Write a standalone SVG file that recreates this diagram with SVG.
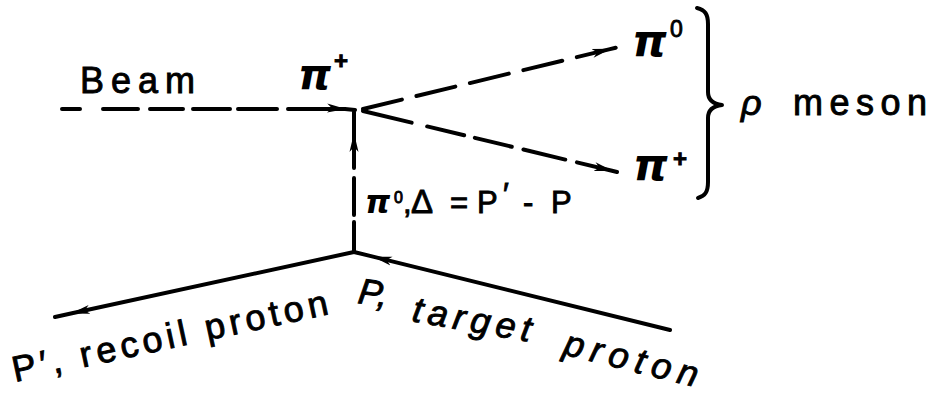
<svg xmlns="http://www.w3.org/2000/svg" width="934" height="395" viewBox="0 0 934 395">
<defs>
<style>
.ln{fill:none;stroke:#000;stroke-width:4;stroke-linecap:round;stroke-linejoin:round}
.dash{stroke-dasharray:40 15}
.sans{font-family:"Liberation Sans","DejaVu Sans",Arial,sans-serif;fill:#000;stroke:#000;stroke-width:0.9}
.pi{font-family:"DejaVu Sans","Liberation Sans",sans-serif;font-style:oblique;font-weight:bold;fill:#000;stroke:none}
.it{font-style:italic}
</style>
<marker id="arr" markerUnits="userSpaceOnUse" markerWidth="20" markerHeight="10" refX="18" refY="5" orient="auto" viewBox="0 0 20 10">
<path d="M0,0.5 L19,5 L0,9.5 L5,5 z" fill="#000"/>
</marker>
</defs>
<rect width="934" height="395" fill="#fff"/>
<g id="connectors">
<path class="ln" d="M62,109 L345,109 L355,110" style="stroke-dasharray:18 23 35 12 33 10 37 8 39 11 80" marker-mid="url(#arr)"/>
<path class="ln" d="M354,252 L354,134 L354,112" style="stroke-dasharray:30 7 37 10 80" marker-mid="url(#arr)"/>
<path class="ln dash" d="M363,109 L610,49.1 L623,46" marker-mid="url(#arr)"/>
<path class="ln dash" d="M363,111 L612,170.8 L617,172" style="stroke-dasharray:50 16 38 11 38 12 43 12 60" marker-mid="url(#arr)"/>
<path class="ln" d="M354,252 L72,313.3 L55,317" marker-mid="url(#arr)"/>
<path class="ln" d="M670,330 L374,256.9 L354,252" marker-mid="url(#arr)"/>
<path class="ln" d="M697,8 C705,10 708,14 708,24 L708,92 C708,100 713,104 722,105 C713,106 708,110 708,118 L708,182 C708,192 705,196 698,198"/>
</g>
<g id="beam">
<text class="sans" x="80" y="93" font-size="36" textLength="115" lengthAdjust="spacing">Beam</text>
</g>
<g id="pi-plus-in">
<text class="pi" x="298" y="89" font-size="42">π</text>
<text class="sans" x="334" y="69" font-size="24" font-weight="bold">+</text>
</g>
<g id="pi-zero-out">
<text class="pi" x="632" y="56" font-size="44">π</text>
<text class="sans" x="670" y="37" font-size="23">0</text>
</g>
<g id="pi-plus-out">
<text class="pi" x="633" y="180" font-size="44">π</text>
<text class="sans" x="673" y="167" font-size="24" font-weight="bold">+</text>
</g>
<g id="rho-meson">
<text class="sans it" x="741" y="115" font-size="36">ρ</text>
<text class="sans" x="793" y="115" font-size="36" textLength="134" lengthAdjust="spacing">meson</text>
</g>
<g id="exchange">
<text class="sans" font-size="31"><tspan class="pi" x="365" y="213" font-size="32">π</tspan><tspan x="394" y="203" font-size="16">0</tspan><tspan x="403" y="213">,</tspan><tspan x="411" y="213" font-size="33">Δ</tspan><tspan x="450" y="213">=</tspan><tspan x="477" y="213">P</tspan><tspan x="503" y="205">′</tspan><tspan x="523" y="213">-</tspan><tspan x="551" y="213">P</tspan></text>
</g>
<g id="recoil">
<text class="sans" font-size="36" transform="translate(15,382) rotate(-12.2)" textLength="322" lengthAdjust="spacing">P′, recoil proton</text>
</g>
<g id="target">
<text class="sans it" font-size="36" transform="translate(357,303) rotate(8)">P,</text>
<text class="sans it" font-size="36" transform="translate(411,321) rotate(10)" textLength="120" lengthAdjust="spacing">target</text>
<text class="sans it" font-size="36" transform="translate(562,354) rotate(14)" textLength="137" lengthAdjust="spacing">proton</text>
</g>
</svg>
